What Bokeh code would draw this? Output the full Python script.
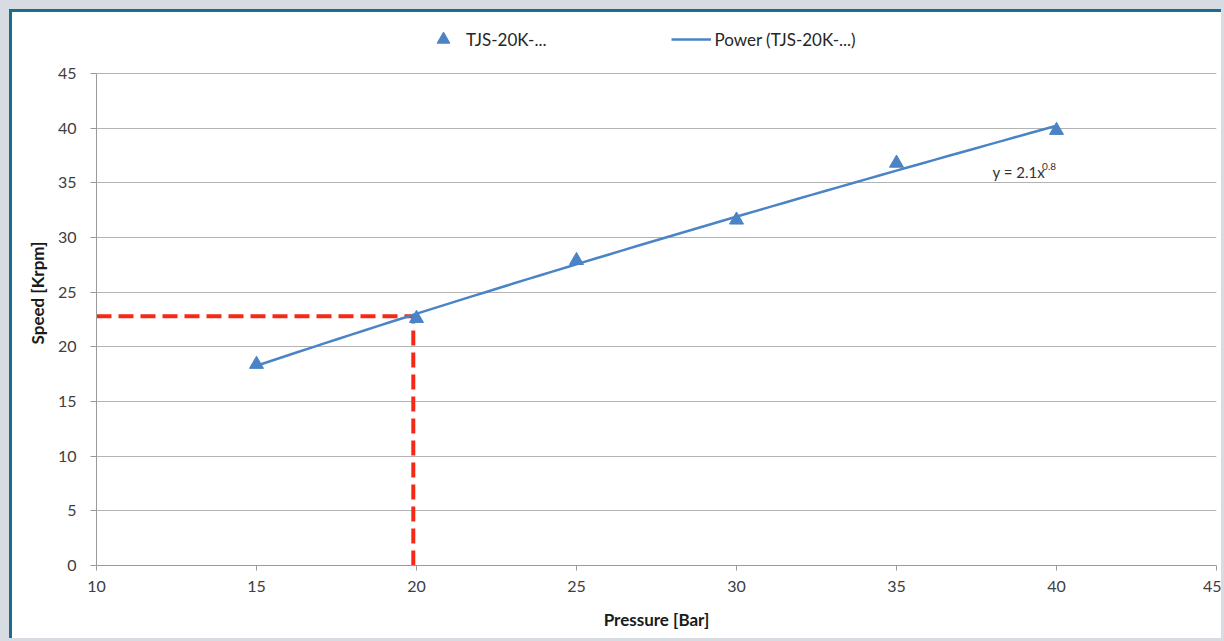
import numpy as np
from bokeh.plotting import figure
from bokeh.models import Legend, LegendItem, Label, FixedTicker, Range1d
from bokeh.embed import file_html
from bokeh.resources import INLINE

# ---- data ----
pressure = [15, 20, 25, 30, 35, 40]
speed = [18.4, 22.6, 27.9, 31.6, 36.8, 39.8]
marker_x = [19.9]
marker_y = [22.8]
x_ticks = [10, 15, 20, 25, 30, 35, 40, 45]
y_ticks = [0, 5, 10, 15, 20, 25, 30, 35, 40, 45]
series_name = "TJS-20K-..."
trend_name = "Power (TJS-20K-...)"

# power trend fitted from the data (least squares in log space, as a spreadsheet does)
b, ln_a = np.polyfit(np.log(pressure), np.log(speed), 1)
trend_x = np.linspace(min(pressure), max(pressure), 60)
trend_y = np.exp(ln_a) * trend_x ** b

BLUE = "#4a84c6"
RED = "#f52a16"
FONT = "Lato"

# layout: the axis spans 0..45 over 492 px; the frame is extended upward to hold the legend
AXIS_PX = 492
FRAME_PX = 545
y_top = 45 * FRAME_PX / AXIS_PX

p = figure(width=1212, height=629, output_backend="svg", toolbar_location=None,
           x_range=Range1d(10, 45), y_range=Range1d(0, y_top),
           min_border_left=84, min_border_right=8, min_border_top=629 - 76 - FRAME_PX,
           min_border_bottom=76,
           background_fill_color="white", border_fill_color="white")
p.styles = {"margin-left": "9px", "margin-top": "9px",
            "border-left": "3px solid #1b6d8e", "border-top": "3px solid #1b6d8e",
            "box-shadow": "0 0 0 9px #d6dce1"}
p.outline_line_color = None

p.xaxis.ticker = FixedTicker(ticks=x_ticks)
p.yaxis.ticker = FixedTicker(ticks=y_ticks)
p.yaxis.bounds = (0, 45)
p.xgrid.grid_line_color = None
p.ygrid.grid_line_color = "#b3b3b3"
p.ygrid.grid_line_width = 1

for ax in (p.xaxis, p.yaxis):
    ax.axis_line_color = "#9a9a9a"
    ax.axis_line_width = 1
    ax.major_tick_line_color = "#9a9a9a"
    ax.minor_tick_line_color = None
    ax.major_label_text_font = FONT
    ax.major_label_text_font_size = "16px"
    ax.major_label_text_color = "#404040"
    ax.axis_label_text_font = FONT
    ax.axis_label_text_font_style = "bold"
    ax.axis_label_text_font_size = "17px"
    ax.axis_label_text_color = "#1a1a1a"

p.xaxis.major_tick_in = 0
p.xaxis.major_tick_out = 5
p.yaxis.major_tick_in = 0
p.yaxis.major_tick_out = 6
p.xaxis.major_label_standoff = 10
p.yaxis.major_label_standoff = 14
p.xaxis.axis_label = "Pressure [Bar]"
p.yaxis.axis_label = "Speed [Krpm]"
p.xaxis.axis_label_standoff = 14
p.yaxis.axis_label_standoff = 7

# red dashed guide lines
p.line([10, marker_x[0]], [marker_y[0], marker_y[0]], line_color=RED, line_width=4,
       line_dash="15 7")
p.line([marker_x[0], marker_x[0]], [0, marker_y[0]], line_color=RED, line_width=4,
       line_dash="15 7")

trend = p.line(trend_x, trend_y, line_color=BLUE, line_width=2.5)
pts = p.scatter(pressure, speed, marker="triangle", size=14, fill_color=BLUE,
                line_color=BLUE)

eq = Label(x=38.0, y=36.0, text="y = 2.1x", text_font=FONT, text_font_size="15px",
           text_color="#333333", text_baseline="middle")
sup = Label(x=39.55, y=36.45, text="0.8", text_font=FONT, text_font_size="10px",
            text_color="#333333", text_baseline="middle")
p.add_layout(eq)
p.add_layout(sup)

legend = Legend(items=[LegendItem(label=series_name, renderers=[pts]),
                       LegendItem(label=trend_name, renderers=[trend])],
                orientation="horizontal", location=(327, 510),
                glyph_width=40, glyph_height=32, label_standoff=3, spacing=125,
                padding=0, margin=0, border_line_color=None,
                background_fill_alpha=0, label_text_font=FONT,
                label_text_font_size="17px", label_text_color="#262626")
p.add_layout(legend, "center")

open("out.html", "w").write(file_html(p, INLINE))
